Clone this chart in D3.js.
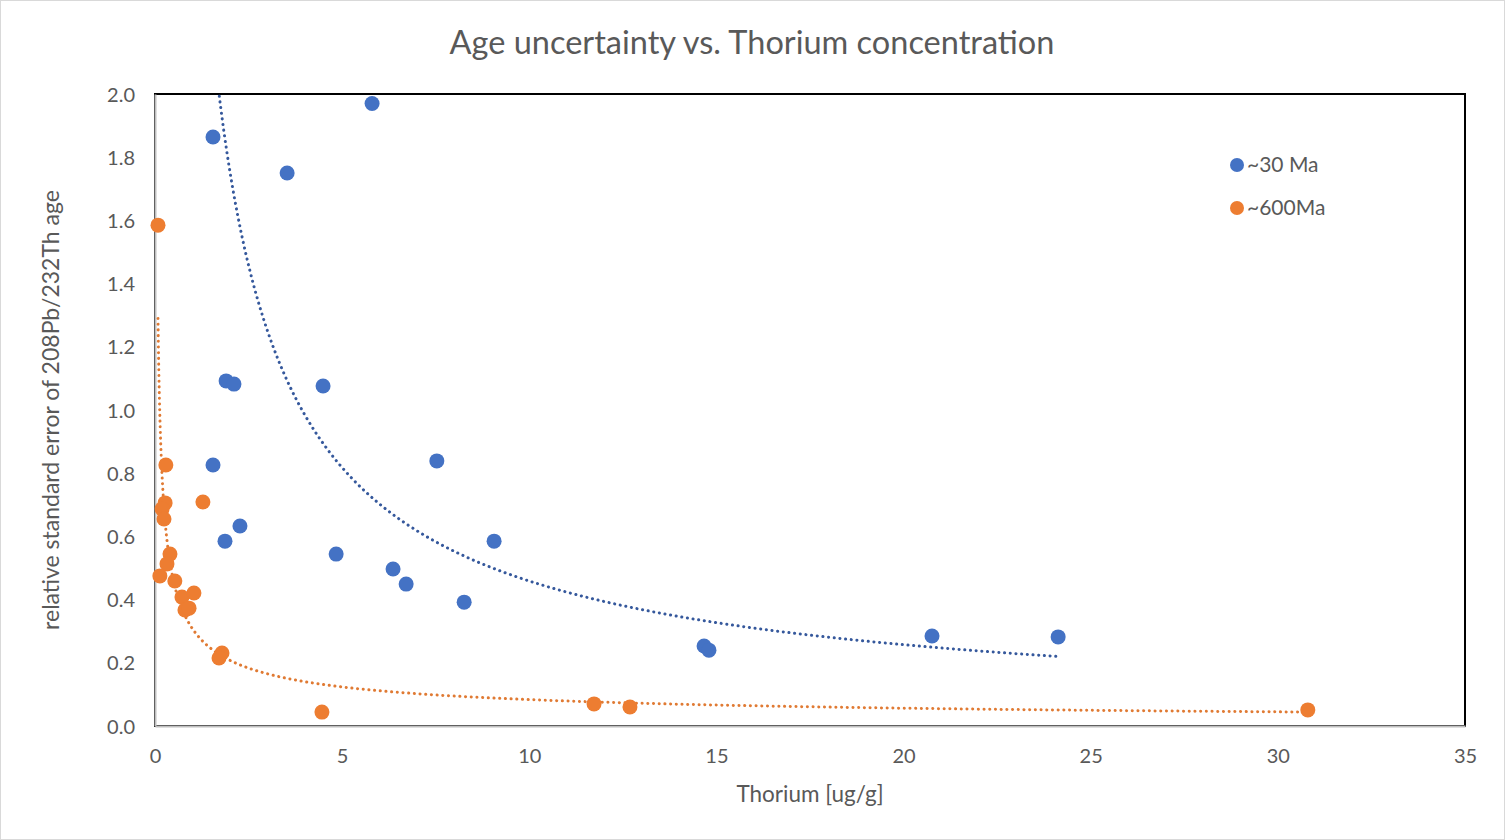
<!DOCTYPE html>
<html>
<head>
<meta charset="utf-8">
<script src="https://cdn.jsdelivr.net/npm/d3@7"></script>
<style>
  body { margin: 0; background: #fff; }
  text { font-family: Lato, "Open Sans", sans-serif; fill: #595959; }
</style>
</head>
<body>
<div id="chart"></div>
<script>
// ~30 Ma samples
var youngTh = [1.55, 5.80, 3.53, 1.90, 2.11, 4.49, 1.55, 7.53, 2.27, 1.87, 4.84, 9.06, 6.36, 6.71, 8.26, 14.67, 14.80, 20.76, 24.13];
var youngErr = [1.864, 1.97, 1.75, 1.092, 1.082, 1.076, 0.826, 0.839, 0.633, 0.585, 0.544, 0.585, 0.497, 0.449, 0.392, 0.253, 0.240, 0.285, 0.282];

// ~600 Ma samples
var oldTh = [0.08, 0.29, 0.27, 0.19, 0.24, 1.28, 0.40, 0.32, 0.13, 0.53, 0.72, 1.04, 0.80, 0.91, 1.79, 1.71, 4.46, 11.73, 12.69, 30.80];
var oldErr = [1.585, 0.826, 0.706, 0.687, 0.655, 0.709, 0.544, 0.513, 0.475, 0.459, 0.408, 0.421, 0.367, 0.373, 0.231, 0.215, 0.044, 0.070, 0.060, 0.051];

// power trendline coefficients y = a * x^b
// (the ~30 Ma fit includes points above the 2.0 axis limit, so it can't be refit here)
var youngTrend = [3.13, -0.834];
var oldTrend = [0.308, -0.567];

var seriesNames = ["~30 Ma", "~600Ma"];
var xTicks = [0, 5, 10, 15, 20, 25, 30, 35];
var yTicks = [0, 0.2, 0.4, 0.6, 0.8, 1.0, 1.2, 1.4, 1.6, 1.8, 2.0];

var svgWidth = 1505;
var svgHeight = 840;
var margin = { top: 94, right: 40, bottom: 114, left: 155 };
var chartWidth = svgWidth - margin.left - margin.right;
var chartHeight = svgHeight - margin.top - margin.bottom;

var blue = "#4472C4", orange = "#ED7D31";

var svg = d3.select("#chart").append("svg")
  .attr("width", svgWidth)
  .attr("height", svgHeight);

svg.append("rect")
  .attr("x", 0.5).attr("y", 0.5)
  .attr("width", svgWidth - 1).attr("height", svgHeight - 1)
  .attr("fill", "#fff").attr("stroke", "#d9d9d9");

var chartGroup = svg.append("g")
  .attr("transform", `translate(${margin.left},${margin.top})`);

var xScale = d3.scaleLinear().domain([0, 35]).range([0, chartWidth]);
var yScale = d3.scaleLinear().domain([0, 2]).range([chartHeight, 0]);

// plot frame
chartGroup.append("rect")
  .attr("width", chartWidth).attr("height", chartHeight)
  .attr("fill", "none").attr("stroke", "#000").attr("stroke-width", 2);

var xAxis = d3.axisBottom(xScale).tickValues(xTicks).tickSize(0).tickPadding(23).tickFormat(d3.format("d"));
var yAxis = d3.axisLeft(yScale).tickValues(yTicks).tickSize(0).tickPadding(20).tickFormat(d3.format(".1f"));

var gx = chartGroup.append("g").attr("transform", `translate(0,${chartHeight})`).call(xAxis);
var gy = chartGroup.append("g").call(yAxis);
[gx, gy].forEach(function(g) {
  g.select(".domain").attr("stroke", "#bfbfbf").attr("stroke-width", 2);
  g.selectAll("text").style("font-size", "20px").attr("fill", "#595959");
});
gy.selectAll("text").attr("dy", "0.35em");

function trendPoints(coef, xs) {
  var lo = d3.min(xs), hi = d3.max(xs);
  var pts = [];
  for (var i = 0; i <= 400; i++) {
    var x = lo * Math.pow(hi / lo, i / 400);
    pts.push([x, coef[0] * Math.pow(x, coef[1])]);
  }
  return pts.filter(p => p[1] <= 2);
}

var line = d3.line().x(d => xScale(d[0])).y(d => yScale(d[1]));

chartGroup.append("clipPath").attr("id", "plotClip")
  .append("rect").attr("width", chartWidth).attr("height", chartHeight);

var trendGroup = chartGroup.append("g").attr("clip-path", "url(#plotClip)");
trendGroup.append("path")
  .datum(trendPoints(youngTrend, youngTh))
  .attr("d", line).attr("fill", "none")
  .attr("stroke", "#35589c").attr("stroke-width", 3)
  .attr("stroke-linecap", "round").attr("stroke-dasharray", "0.1,5.6");
trendGroup.append("path")
  .datum(trendPoints(oldTrend, oldTh))
  .attr("d", line).attr("fill", "none")
  .attr("stroke", "#e07a33").attr("stroke-width", 3)
  .attr("stroke-linecap", "round").attr("stroke-dasharray", "0.1,5.6");

// points
chartGroup.selectAll(".young")
  .data(d3.zip(youngTh, youngErr))
  .enter().append("circle")
  .attr("class", "young")
  .attr("cx", d => xScale(d[0])).attr("cy", d => yScale(d[1]))
  .attr("r", 7.5).attr("fill", blue);

chartGroup.selectAll(".old")
  .data(d3.zip(oldTh, oldErr))
  .enter().append("circle")
  .attr("class", "old")
  .attr("cx", d => xScale(d[0])).attr("cy", d => yScale(d[1]))
  .attr("r", 7.5).attr("fill", orange);

// title and axis titles
svg.append("text")
  .attr("x", 752).attr("y", 54)
  .attr("text-anchor", "middle")
  .style("font-size", "32.5px")
  .text("Age uncertainty vs. Thorium concentration");

svg.append("text")
  .attr("x", margin.left + chartWidth / 2).attr("y", 802)
  .attr("text-anchor", "middle")
  .style("font-size", "22.5px")
  .text("Thorium [ug/g]");

svg.append("text")
  .attr("transform", "rotate(-90)")
  .attr("x", -410).attr("y", 59)
  .attr("text-anchor", "middle")
  .style("font-size", "23px")
  .text("relative standard error of 208Pb/232Th age");

// legend
var legend = svg.append("g").attr("transform", "translate(1237,165)");
[blue, orange].forEach(function(c, i) {
  var row = legend.append("g").attr("transform", `translate(0,${i * 43})`);
  row.append("circle").attr("r", 7).attr("fill", c);
  row.append("text").attr("x", 10).attr("dy", "0.35em")
    .style("font-size", "21px").text(seriesNames[i]);
});
</script>
</body>
</html>
